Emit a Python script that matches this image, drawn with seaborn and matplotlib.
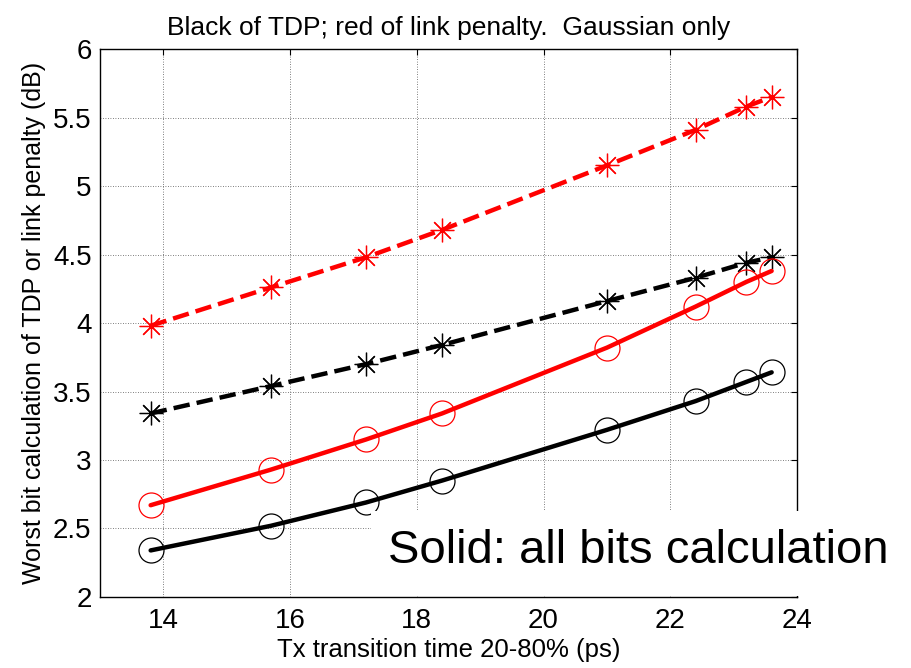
"""
Worst-bit TDP / link penalty vs Tx transition time
"""

import matplotlib
matplotlib.use("Agg")
import matplotlib.pyplot as plt
from matplotlib.patches import Rectangle
import seaborn as sns

# transition time 20-80% (ps)
tx_time = [13.8, 15.7, 17.2, 18.4, 21.0, 22.4, 23.2, 23.6]

# dashed series (asterisk markers)
link_penalty_dashed = [3.98, 4.26, 4.48, 4.68, 5.15, 5.41, 5.58, 5.65]
tdp_dashed = [3.34, 3.54, 3.70, 3.84, 4.16, 4.33, 4.44, 4.48]

# solid series: all bits calculation (circle markers)
link_penalty_solid = [2.67, 2.93, 3.15, 3.34, 3.82, 4.12, 4.30, 4.38]
tdp_solid = [2.34, 2.52, 2.69, 2.85, 3.22, 3.43, 3.57, 3.64]

x_ticks = [14, 16, 18, 20, 22, 24]
y_ticks = [2, 2.5, 3, 3.5, 4, 4.5, 5, 5.5, 6]

sns.set_style("white")
plt.rcParams['font.family'] = ['Liberation Sans', 'DejaVu Sans']
plt.rcParams['text.color'] = 'black'
plt.rcParams['axes.labelcolor'] = 'black'

fig = plt.figure(figsize=(9.12, 6.68), dpi=100)
ax = fig.add_axes([0.1096, 0.1063, 0.7643, 0.8203])

asterisk = (8, 2, 0)
series = [
    (link_penalty_dashed, 'red', '--', asterisk),
    (tdp_dashed, 'black', '--', asterisk),
    (link_penalty_solid, 'red', '-', 'o'),
    (tdp_solid, 'black', '-', 'o'),
]
for vals, col, ls, mk in series:
    sns.lineplot(x=tx_time, y=vals, ax=ax, color=col, linestyle=ls,
                 linewidth=3.2, marker=mk, markersize=18 if mk == 'o' else 17,
                 markerfacecolor='none', markeredgecolor=col,
                 markeredgewidth=0.9, zorder=3)

ax.set_xlim(13, 24)
ax.set_ylim(2, 6)
ax.set_xticks(x_ticks)
ax.set_yticks(y_ticks)
ax.set_yticklabels([f'{v:g}' for v in y_ticks])
ax.grid(True, linestyle=(0, (1, 2)), color='#555555', linewidth=0.6)
ax.tick_params(direction='in', top=True, right=True, length=4,
               labelsize=20, colors='black')
ax.tick_params(axis='x', pad=8)
ax.tick_params(axis='y', pad=6)
for sp in ax.spines.values():
    sp.set_color('black')
    sp.set_linewidth(1.0)

ax.set_xlabel('Tx transition time 20-80% (ps)', fontsize=18.5, labelpad=3)
ax.set_ylabel('Worst bit calculation of TDP or link penalty (dB)', fontsize=18, labelpad=5)
ax.set_title('Black of TDP; red of link penalty.  Gaussian only', fontsize=19, pad=10)

# white label box over the lower right corner
fig.add_artist(Rectangle((0.4068, 0.1085), 0.594, 0.127, transform=fig.transFigure,
                         facecolor='white', edgecolor='none', zorder=10))
fig.text(0.425, 0.175, 'Solid: all bits calculation', fontsize=34,
         va='center', ha='left', zorder=11)

fig.savefig('out.png', dpi=100)
